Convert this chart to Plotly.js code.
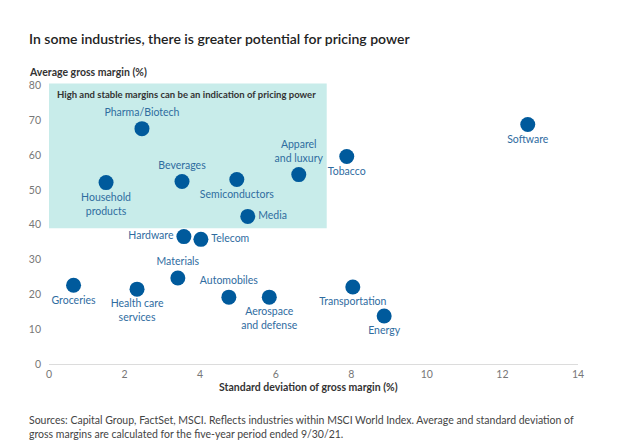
<!DOCTYPE html>
<html>
<head>
<meta charset="utf-8">
<script src="https://cdn.plot.ly/plotly-3.0.1.min.js"></script>
<style>html,body{margin:0;padding:0;background:#fff;}#chart{width:630px;height:448px;}</style>
</head>
<body>
<div id="chart"></div>
<script>
const industries = ["Pharma/Biotech","Household<br>products","Beverages","Semiconductors","Apparel<br>and luxury","Tobacco","Software","Media","Hardware","Telecom","Materials","Groceries","Health care<br>services","Automobiles","Aerospace<br>and defense","Transportation","Energy"];
const stdDev = [2.46, 1.51, 3.52, 4.97, 6.61, 7.88, 12.67, 5.26, 3.57, 4.02, 3.41, 0.65, 2.33, 4.76, 5.83, 8.04, 8.87];
const avgMargin = [67.6, 52.1, 52.4, 53.0, 54.4, 59.6, 68.8, 42.4, 36.6, 35.8, 24.7, 22.6, 21.5, 19.2, 19.2, 22.1, 13.8];
const labelPos = ["top center","bottom center","top center","bottom center","top center","bottom center","bottom center","middle right","middle left","middle right","top center","bottom center","bottom center","top center","bottom center","bottom center","bottom center"];
const xTicks = [0, 2, 4, 6, 8, 10, 12, 14];
const yTicks = [0, 10, 20, 30, 40, 50, 60, 70, 80];
const zone = {x0: 0, x1: 7.35, y0: 39, y1: 80.6};

const F = "Lato, 'Noto Sans', sans-serif";
const data = [{
  type: "scatter",
  mode: "markers+text",
  x: stdDev,
  y: avgMargin,
  text: industries,
  textposition: labelPos,
  textfont: {family: F, size: 10.5, color: "#2f6c9f"},
  marker: {size: 15, color: "#005a9c"},
  cliponaxis: false,
  hoverinfo: "skip"
}];

const layout = {
  width: 630, height: 448,
  margin: {l: 49, r: 52, t: 82, b: 84},
  paper_bgcolor: "#fff", plot_bgcolor: "#fff",
  showlegend: false,
  font: {family: F, color: "#555"},
  xaxis: {
    range: [0, 14], tickvals: xTicks, ticktext: xTicks.map(String),
    showgrid: false, zeroline: false, showline: true, linecolor: "#dcdcdc", linewidth: 1,
    ticks: "", tickfont: {family: F, size: 10.5, color: "#777"}, fixedrange: true
  },
  yaxis: {
    range: [0, 81], tickvals: yTicks, ticktext: yTicks.map(String),
    showgrid: false, zeroline: false, showline: false,
    ticks: "", ticklabelstandoff: 7, tickfont: {family: F, size: 10.5, color: "#777"}, fixedrange: true
  },
  shapes: [{
    type: "rect", xref: "x", yref: "y", layer: "below",
    x0: zone.x0, x1: zone.x1, y0: zone.y0, y1: zone.y1,
    fillcolor: "#c8ecea", line: {width: 0}
  }],
  annotations: [
    {text: "In some industries, there is greater potential for pricing power", xref: "paper", yref: "paper",
     x: -0.0416, y: 1.156, xanchor: "left", yanchor: "middle", showarrow: false,
     font: {family: F, size: 14, color: "#222", weight: 600}},
    {text: "<b>Average gross margin (%)</b>", xref: "paper", yref: "paper",
     x: -0.0416, y: 1.035, xanchor: "left", yanchor: "middle", showarrow: false,
     font: {family: F, size: 10.5, color: "#333"}},
    {text: "<b>High and stable margins can be an indication of pricing power</b>", xref: "paper", yref: "paper",
     x: 0.011, y: 0.954, xanchor: "left", yanchor: "middle", showarrow: false,
     font: {family: F, size: 9.5, color: "#333"}},
    {text: "<b>Standard deviation of gross margin (%)</b>", xref: "paper", yref: "paper",
     x: 0.49, y: -0.083, xanchor: "center", yanchor: "middle", showarrow: false,
     font: {family: F, size: 10.5, color: "#333"}},
    {text: "Sources: Capital Group, FactSet, MSCI. Reflects industries within MSCI World Index. Average and standard deviation of<br>gross margins are calculated for the five-year period ended 9/30/21.",
     xref: "paper", yref: "paper", x: -0.0416, y: -0.225, xanchor: "left", yanchor: "middle", align: "left",
     showarrow: false, font: {family: F, size: 10.5, color: "#444"}}
  ]
};
Plotly.newPlot("chart", data, layout, {displayModeBar: false, staticPlot: true});
</script>
</body>
</html>
